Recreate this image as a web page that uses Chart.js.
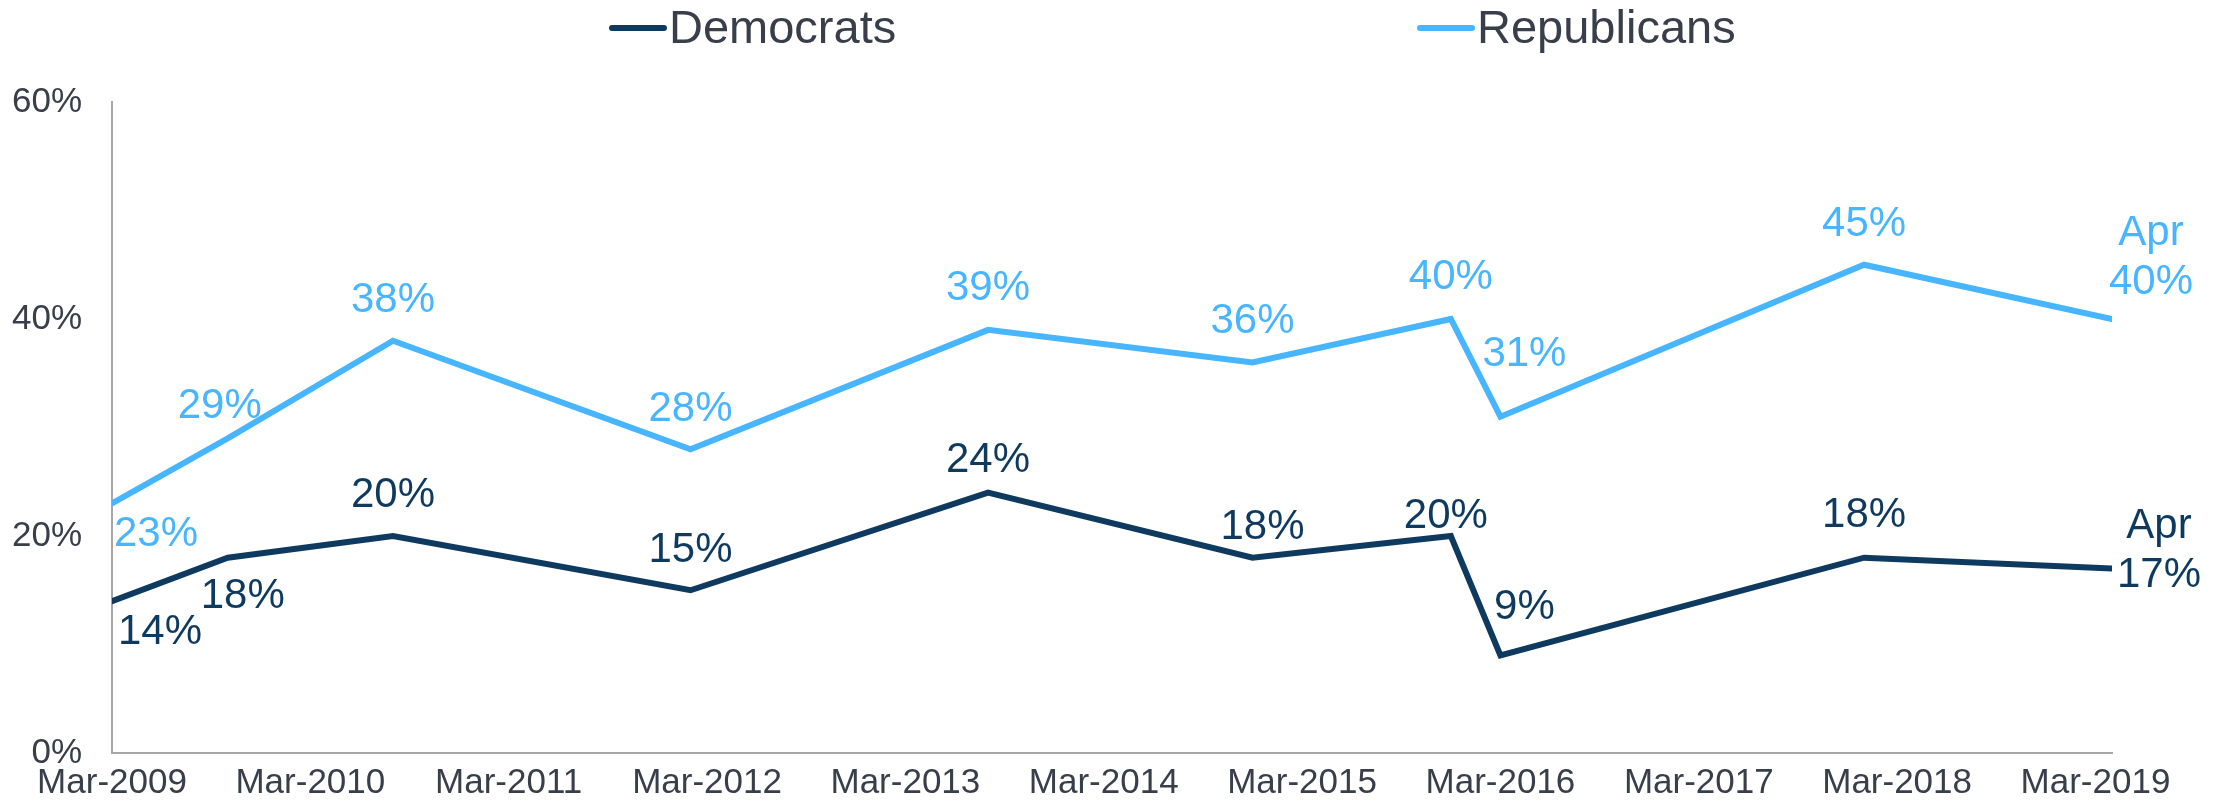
<!DOCTYPE html>
<html>
<head>
<meta charset="utf-8">
<script src="https://cdn.jsdelivr.net/npm/chart.js@4.4.1/dist/chart.umd.min.js"></script>
<style>
  html, body { margin: 0; padding: 0; background: #fff; }
  #wrap { width: 2223px; height: 804px; }
</style>
</head>
<body>
<div id="wrap"><canvas id="trendChart"></canvas></div>
<script>
// ================= DATA =================
const surveyDates = ["2009-03", "2009-10", "2010-08", "2012-02", "2013-08", "2014-12", "2015-12", "2016-03", "2018-01", "2019-04"];
const democrats = [14, 18, 20, 15, 24, 18, 20, 9, 18, 17];
const republicans = [23, 29, 38, 28, 39, 36, 40, 31, 45, 40];
const tickLabels = ["Mar-2009", "Mar-2010", "Mar-2011", "Mar-2012", "Mar-2013", "Mar-2014", "Mar-2015", "Mar-2016", "Mar-2017", "Mar-2018", "Mar-2019"];
const lastNote = "Apr";

// label placement, px from point to label centre
const demOffsets = [[48, 31], [15, 39], [0, -41], [0, -40], [0, -32], [10, -30], [-5, -20], [24, -48], [0, -42], [47, 7]];
const repOffsets = [[44, 31], [-8, -32], [0, -40], [0, -40], [0, -41], [0, -41], [0, -42], [24, -62], [0, -40], [39, -37]];

// ================= STYLE =================
const DEM_COLOR = "#0f3a5f";
const REP_COLOR = "#47b5ff";
const TEXT_COLOR = "#383f4a";
const FONT = "'Liberation Sans', Arial, sans-serif";

// months since Mar-2009
function monthIndex(s) {
  const [y, m] = s.split("-").map(Number);
  return (y - 2009) * 12 + (m - 3);
}

const xs = surveyDates.map(monthIndex);
const toPoints = (vals) => vals.map((v, i) => ({ x: xs[i], y: v }));

// ================= PLUGINS =================
const pointLabels = {
  id: "pointLabels",
  afterDatasetsDraw(chart) {
    const c = chart.ctx;
    c.save();
    c.font = "42px " + FONT;
    c.textAlign = "center";
    c.textBaseline = "middle";
    chart.data.datasets.forEach((ds, di) => {
      const meta = chart.getDatasetMeta(di);
      meta.data.forEach((pt, i) => {
        const [dx, dy] = ds.labelOffsets[i];
        c.fillStyle = ds.borderColor;
        c.fillText(ds.data[i].y + "%", pt.x + dx, pt.y + dy);
        if (i === ds.data.length - 1) {
          c.fillText(lastNote, pt.x + dx, pt.y + dy - 49);
        }
      });
    });
    c.restore();
  }
};

const lineLegend = {
  id: "lineLegend",
  afterDraw(chart) {
    const c = chart.ctx;
    const items = [
      { text: chart.data.datasets[0].label, color: DEM_COLOR, x: 612 },
      { text: chart.data.datasets[1].label, color: REP_COLOR, x: 1420 }
    ];
    c.save();
    c.font = "47px " + FONT;
    c.textBaseline = "middle";
    c.textAlign = "left";
    items.forEach((it) => {
      c.strokeStyle = it.color;
      c.lineWidth = 6;
      c.lineCap = "round";
      c.beginPath();
      c.moveTo(it.x, 28);
      c.lineTo(it.x + 52, 28);
      c.stroke();
      c.fillStyle = TEXT_COLOR;
      c.fillText(it.text, it.x + 57, 30);
    });
    c.restore();
  }
};

// ================= CHART =================
const ctx = document.getElementById("trendChart");

new Chart(ctx, {
  type: "line",
  data: {
    datasets: [
      {
        label: "Democrats",
        data: toPoints(democrats),
        borderColor: DEM_COLOR,
        borderWidth: 6,
        labelOffsets: demOffsets
      },
      {
        label: "Republicans",
        data: toPoints(republicans),
        borderColor: REP_COLOR,
        borderWidth: 6,
        labelOffsets: repOffsets
      }
    ]
  },
  options: {
    responsive: true,
    maintainAspectRatio: false,
    animation: false,
    layout: { padding: { top: 102, right: 111, left: 0, bottom: 0 } },
    elements: {
      point: { radius: 0, hoverRadius: 0 },
      line: { tension: 0, borderCapStyle: "round", borderJoinStyle: "miter", fill: false }
    },
    plugins: {
      legend: { display: false },
      tooltip: { enabled: false }
    },
    scales: {
      x: {
        type: "linear",
        min: 0,
        max: 121,
        grid: { display: false, drawTicks: false },
        border: { display: true, color: "#a6a6a6", width: 2 },
        afterBuildTicks(scale) {
          scale.ticks = tickLabels.map((_, i) => ({ value: i * 12 }));
        },
        afterFit(scale) { scale.height = 48; },
        ticks: {
          autoSkip: false,
          maxRotation: 0,
          padding: 9,
          color: TEXT_COLOR,
          font: { family: FONT, size: 35 },
          callback: (v) => tickLabels[Math.round(v / 12)]
        }
      },
      y: {
        min: 0,
        max: 60,
        grid: { display: false, drawTicks: false },
        border: { display: true, color: "#a6a6a6", width: 2 },
        afterFit(scale) { scale.width = 112; },
        ticks: {
          stepSize: 20,
          padding: 30,
          color: TEXT_COLOR,
          font: { family: FONT, size: 35 },
          callback: (v) => v + "%"
        }
      }
    }
  },
  plugins: [pointLabels, lineLegend]
});
</script>
</body>
</html>
